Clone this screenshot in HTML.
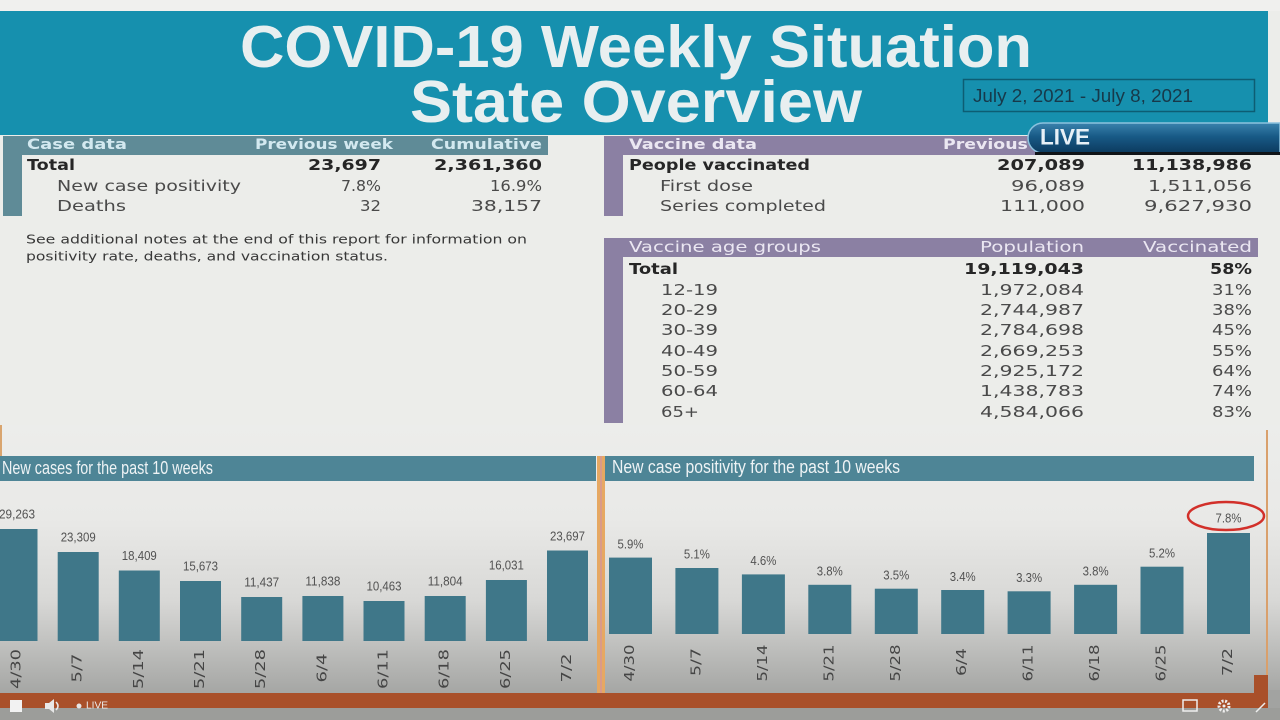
<!DOCTYPE html>
<html><head><meta charset="utf-8"><style>
html,body{margin:0;padding:0;background:#ecedea;}
svg{display:block;}
</style></head><body>
<svg width="1280" height="720" viewBox="0 0 1280 720" xmlns="http://www.w3.org/2000/svg">
<defs>
<linearGradient id="bg" x1="0" y1="0" x2="0" y2="1">
<stop offset="0" stop-color="#ecedeb"/>
<stop offset="0.35" stop-color="#e9e9e7"/>
<stop offset="0.65" stop-color="#d8d8d6"/>
<stop offset="1" stop-color="#a4a5a3"/>
</linearGradient>
<linearGradient id="live" x1="0" y1="0" x2="0" y2="1">
<stop offset="0" stop-color="#3a82ad"/>
<stop offset="0.45" stop-color="#185a86"/>
<stop offset="1" stop-color="#0c3a5e"/>
</linearGradient>
</defs>
<rect x="0" y="0" width="1280" height="720" fill="#ecedea"/>
<rect x="0" y="0" width="1280" height="11" fill="#f0f0ee"/>
<!-- header -->
<rect x="0" y="11" width="1268" height="124" fill="#1690ae"/>
<g font-family="Liberation Sans, Arial, sans-serif" font-weight="bold" font-size="59" fill="#e8eff0">
<text x="240" y="67" textLength="792" lengthAdjust="spacingAndGlyphs">COVID-19 Weekly Situation</text>
<text x="410" y="122" textLength="452" lengthAdjust="spacingAndGlyphs">State Overview</text>
</g>
<rect x="963.5" y="79.5" width="291" height="32" fill="none" stroke="#0d5d73" stroke-width="1.5"/>
<text x="973" y="96" dominant-baseline="central" font-family="Liberation Sans, Arial, sans-serif" font-size="18" fill="#17394a" textLength="220" lengthAdjust="spacingAndGlyphs">July 2, 2021 - July 8, 2021</text>

<!-- case data table -->
<rect x="3" y="136" width="545" height="19" fill="#5f8b97"/>
<rect x="3" y="136" width="19" height="80" fill="#5f8b97"/>
<g font-family="DejaVu Sans, Verdana, sans-serif" font-size="14" font-weight="bold" fill="#d3e9f0" dominant-baseline="central">
<text x="27" y="145" textLength="100" lengthAdjust="spacingAndGlyphs">Case data</text>
<text x="255" y="145" textLength="138" lengthAdjust="spacingAndGlyphs">Previous week</text>
<text x="431" y="145" textLength="111" lengthAdjust="spacingAndGlyphs">Cumulative</text>
</g>
<g font-family="DejaVu Sans, Verdana, sans-serif" font-size="15" dominant-baseline="central">
<g font-weight="bold" fill="#262626">
<text x="27" y="165" textLength="48" lengthAdjust="spacingAndGlyphs">Total</text>
<text x="308" y="165" textLength="73" lengthAdjust="spacingAndGlyphs">23,697</text>
<text x="434" y="165" textLength="108" lengthAdjust="spacingAndGlyphs">2,361,360</text>
</g>
<g fill="#4a4a4a">
<text x="57" y="186" textLength="184" lengthAdjust="spacingAndGlyphs">New case positivity</text>
<text x="341" y="186" textLength="40" lengthAdjust="spacingAndGlyphs">7.8%</text>
<text x="490" y="186" textLength="52" lengthAdjust="spacingAndGlyphs">16.9%</text>
<text x="57" y="206" textLength="69" lengthAdjust="spacingAndGlyphs">Deaths</text>
<text x="360" y="206" textLength="21" lengthAdjust="spacingAndGlyphs">32</text>
<text x="471" y="206" textLength="71" lengthAdjust="spacingAndGlyphs">38,157</text>
</g>
</g>
<g font-family="DejaVu Sans, Verdana, sans-serif" font-size="12.5" fill="#383838" dominant-baseline="central">
<text x="26" y="239" textLength="501" lengthAdjust="spacingAndGlyphs">See additional notes at the end of this report for information on</text>
<text x="26" y="256" textLength="362" lengthAdjust="spacingAndGlyphs">positivity rate, deaths, and vaccination status.</text>
</g>

<!-- vaccine data table -->
<rect x="604" y="136" width="654" height="19" fill="#8b80a3"/>
<rect x="604" y="136" width="19" height="80" fill="#8b80a3"/>
<g font-family="DejaVu Sans, Verdana, sans-serif" font-size="14.5" font-weight="bold" fill="#ebe7f2" dominant-baseline="central">
<text x="629" y="145" textLength="128" lengthAdjust="spacingAndGlyphs">Vaccine data</text>
<text x="943" y="145" textLength="142" lengthAdjust="spacingAndGlyphs">Previous week</text>
<text x="1141" y="145" textLength="111" lengthAdjust="spacingAndGlyphs">Cumulative</text>
</g>
<g font-family="DejaVu Sans, Verdana, sans-serif" font-size="15" dominant-baseline="central">
<g font-weight="bold" fill="#262626">
<text x="629" y="165" textLength="181" lengthAdjust="spacingAndGlyphs">People vaccinated</text>
<text x="997" y="165" textLength="88" lengthAdjust="spacingAndGlyphs">207,089</text>
<text x="1132" y="165" textLength="120" lengthAdjust="spacingAndGlyphs">11,138,986</text>
</g>
<g fill="#4a4a4a">
<text x="660" y="186" textLength="93" lengthAdjust="spacingAndGlyphs">First dose</text>
<text x="1011" y="186" textLength="74" lengthAdjust="spacingAndGlyphs">96,089</text>
<text x="1148" y="186" textLength="104" lengthAdjust="spacingAndGlyphs">1,511,056</text>
<text x="660" y="206" textLength="166" lengthAdjust="spacingAndGlyphs">Series completed</text>
<text x="1000" y="206" textLength="85" lengthAdjust="spacingAndGlyphs">111,000</text>
<text x="1144" y="206" textLength="108" lengthAdjust="spacingAndGlyphs">9,627,930</text>
</g>
</g>

<!-- vaccine age groups -->
<rect x="604" y="238" width="654" height="19" fill="#8b80a3"/>
<rect x="604" y="238" width="19" height="185" fill="#8b80a3"/>
<g font-family="DejaVu Sans, Verdana, sans-serif" font-size="15" fill="#ebe7f2" dominant-baseline="central">
<text x="629" y="247" textLength="192" lengthAdjust="spacingAndGlyphs">Vaccine age groups</text>
<text x="980" y="247" textLength="104" lengthAdjust="spacingAndGlyphs">Population</text>
<text x="1143" y="247" textLength="109" lengthAdjust="spacingAndGlyphs">Vaccinated</text>
</g>
<g font-family="DejaVu Sans, Verdana, sans-serif" font-size="15" dominant-baseline="central">
<g font-weight="bold" fill="#262626">
<text x="629" y="269" textLength="49" lengthAdjust="spacingAndGlyphs">Total</text>
<text x="964" y="269" textLength="120" lengthAdjust="spacingAndGlyphs">19,119,043</text>
<text x="1210" y="269" textLength="42" lengthAdjust="spacingAndGlyphs">58%</text>
</g>
<g fill="#4a4a4a">
<text x="661" y="290" textLength="57" lengthAdjust="spacingAndGlyphs">12-19</text>
<text x="980" y="290" textLength="104" lengthAdjust="spacingAndGlyphs">1,972,084</text>
<text x="1212" y="290" textLength="40" lengthAdjust="spacingAndGlyphs">31%</text>
<text x="661" y="310" textLength="57" lengthAdjust="spacingAndGlyphs">20-29</text>
<text x="980" y="310" textLength="104" lengthAdjust="spacingAndGlyphs">2,744,987</text>
<text x="1212" y="310" textLength="40" lengthAdjust="spacingAndGlyphs">38%</text>
<text x="661" y="330" textLength="57" lengthAdjust="spacingAndGlyphs">30-39</text>
<text x="980" y="330" textLength="104" lengthAdjust="spacingAndGlyphs">2,784,698</text>
<text x="1212" y="330" textLength="40" lengthAdjust="spacingAndGlyphs">45%</text>
<text x="661" y="351" textLength="57" lengthAdjust="spacingAndGlyphs">40-49</text>
<text x="980" y="351" textLength="104" lengthAdjust="spacingAndGlyphs">2,669,253</text>
<text x="1212" y="351" textLength="40" lengthAdjust="spacingAndGlyphs">55%</text>
<text x="661" y="371" textLength="57" lengthAdjust="spacingAndGlyphs">50-59</text>
<text x="980" y="371" textLength="104" lengthAdjust="spacingAndGlyphs">2,925,172</text>
<text x="1212" y="371" textLength="40" lengthAdjust="spacingAndGlyphs">64%</text>
<text x="661" y="391" textLength="57" lengthAdjust="spacingAndGlyphs">60-64</text>
<text x="980" y="391" textLength="104" lengthAdjust="spacingAndGlyphs">1,438,783</text>
<text x="1212" y="391" textLength="40" lengthAdjust="spacingAndGlyphs">74%</text>
<text x="661" y="412" textLength="38" lengthAdjust="spacingAndGlyphs">65+</text>
<text x="980" y="412" textLength="104" lengthAdjust="spacingAndGlyphs">4,584,066</text>
<text x="1212" y="412" textLength="40" lengthAdjust="spacingAndGlyphs">83%</text>
</g>
</g>

<!-- LIVE badge -->
<path d="M1043,123 L1280,123 L1280,153 L1043,153 A15,15 0 0 1 1043,123 Z" fill="url(#live)" stroke="#8cc2de" stroke-width="1.5"/>
<rect x="1035" y="152" width="245" height="3" fill="#101418"/>
<text x="1040" y="137" dominant-baseline="central" font-family="Liberation Sans, Arial, sans-serif" font-weight="bold" font-size="22" fill="#e8f1f7" textLength="50" lengthAdjust="spacingAndGlyphs">LIVE</text>

<!-- bottom charts background -->
<rect x="0" y="425" width="1280" height="270" fill="url(#bg)"/>
<rect x="0" y="425" width="2" height="36" fill="#d9a56f"/>
<rect x="1266" y="430" width="2" height="250" fill="#d9a06c"/>

<!-- chart title bars -->
<rect x="0" y="456" width="596" height="25" fill="#4e8596"/>
<rect x="605" y="456" width="649" height="25" fill="#4e8596"/>
<g font-family="Liberation Sans, Arial, sans-serif" font-size="18" fill="#eef3f5" dominant-baseline="central">
<text x="2" y="468" textLength="211" lengthAdjust="spacingAndGlyphs">New cases for the past 10 weeks</text>
<text x="612" y="467" textLength="288" lengthAdjust="spacingAndGlyphs">New case positivity for the past 10 weeks</text>
</g>

<!-- left bars -->
<g fill="#3f7789">
<rect x="-3.5" y="529" width="41" height="112"/>
<rect x="57.7" y="552" width="41" height="89"/>
<rect x="118.8" y="570.5" width="41" height="70.5"/>
<rect x="180" y="581" width="41" height="60"/>
<rect x="241.2" y="597" width="41" height="44"/>
<rect x="302.4" y="596" width="41" height="45"/>
<rect x="363.5" y="601" width="41" height="40"/>
<rect x="424.7" y="596" width="41" height="45"/>
<rect x="485.9" y="580" width="41" height="61"/>
<rect x="547" y="550.5" width="41" height="90.5"/>
</g>
<g font-family="Liberation Sans, Arial, sans-serif" font-size="13" fill="#525252" text-anchor="middle" dominant-baseline="central">
<text x="17" y="514" textLength="36" lengthAdjust="spacingAndGlyphs">29,263</text>
<text x="78.2" y="537" textLength="35" lengthAdjust="spacingAndGlyphs">23,309</text>
<text x="139.3" y="555.5" textLength="35" lengthAdjust="spacingAndGlyphs">18,409</text>
<text x="200.5" y="566" textLength="35" lengthAdjust="spacingAndGlyphs">15,673</text>
<text x="261.7" y="582" textLength="35" lengthAdjust="spacingAndGlyphs">11,437</text>
<text x="322.9" y="581" textLength="35" lengthAdjust="spacingAndGlyphs">11,838</text>
<text x="384" y="586" textLength="35" lengthAdjust="spacingAndGlyphs">10,463</text>
<text x="445.2" y="581" textLength="35" lengthAdjust="spacingAndGlyphs">11,804</text>
<text x="506.4" y="565" textLength="35" lengthAdjust="spacingAndGlyphs">16,031</text>
<text x="567.5" y="536" textLength="35" lengthAdjust="spacingAndGlyphs">23,697</text>
</g>
<g font-family="DejaVu Sans, Verdana, sans-serif" font-size="13" fill="#454545" text-anchor="middle" dominant-baseline="central">
<text x="17" y="669" transform="rotate(-90 17 669)" textLength="40" lengthAdjust="spacingAndGlyphs">4/30</text>
<text x="78.2" y="668" transform="rotate(-90 78.2 668)" textLength="29" lengthAdjust="spacingAndGlyphs">5/7</text>
<text x="139.3" y="669" transform="rotate(-90 139.3 669)" textLength="40" lengthAdjust="spacingAndGlyphs">5/14</text>
<text x="200.5" y="669" transform="rotate(-90 200.5 669)" textLength="40" lengthAdjust="spacingAndGlyphs">5/21</text>
<text x="261.7" y="669" transform="rotate(-90 261.7 669)" textLength="40" lengthAdjust="spacingAndGlyphs">5/28</text>
<text x="322.9" y="668" transform="rotate(-90 322.9 668)" textLength="29" lengthAdjust="spacingAndGlyphs">6/4</text>
<text x="384" y="669" transform="rotate(-90 384 669)" textLength="40" lengthAdjust="spacingAndGlyphs">6/11</text>
<text x="445.2" y="669" transform="rotate(-90 445.2 669)" textLength="40" lengthAdjust="spacingAndGlyphs">6/18</text>
<text x="506.4" y="669" transform="rotate(-90 506.4 669)" textLength="40" lengthAdjust="spacingAndGlyphs">6/25</text>
<text x="567.5" y="668" transform="rotate(-90 567.5 668)" textLength="29" lengthAdjust="spacingAndGlyphs">7/2</text>
</g>

<!-- right bars -->
<g fill="#3f7789">
<rect x="609" y="557.6" width="43" height="76.4"/>
<rect x="675.4" y="568" width="43" height="66"/>
<rect x="741.9" y="574.4" width="43" height="59.6"/>
<rect x="808.3" y="584.8" width="43" height="49.2"/>
<rect x="874.8" y="588.7" width="43" height="45.3"/>
<rect x="941.2" y="590" width="43" height="44"/>
<rect x="1007.6" y="591.3" width="43" height="42.7"/>
<rect x="1074.1" y="584.8" width="43" height="49.2"/>
<rect x="1140.5" y="566.7" width="43" height="67.3"/>
<rect x="1207" y="533" width="43" height="101"/>
</g>
<g font-family="Liberation Sans, Arial, sans-serif" font-size="13" fill="#525252" text-anchor="middle" dominant-baseline="central">
<text x="630.5" y="544" textLength="26" lengthAdjust="spacingAndGlyphs">5.9%</text>
<text x="696.9" y="554" textLength="26" lengthAdjust="spacingAndGlyphs">5.1%</text>
<text x="763.4" y="560.5" textLength="26" lengthAdjust="spacingAndGlyphs">4.6%</text>
<text x="829.8" y="571" textLength="26" lengthAdjust="spacingAndGlyphs">3.8%</text>
<text x="896.3" y="575" textLength="26" lengthAdjust="spacingAndGlyphs">3.5%</text>
<text x="962.7" y="576.5" textLength="26" lengthAdjust="spacingAndGlyphs">3.4%</text>
<text x="1029.1" y="577.5" textLength="26" lengthAdjust="spacingAndGlyphs">3.3%</text>
<text x="1095.6" y="571" textLength="26" lengthAdjust="spacingAndGlyphs">3.8%</text>
<text x="1162" y="553" textLength="26" lengthAdjust="spacingAndGlyphs">5.2%</text>
<text x="1228.5" y="518" textLength="26" lengthAdjust="spacingAndGlyphs">7.8%</text>
</g>
<ellipse cx="1226" cy="516" rx="38" ry="14" fill="none" stroke="#d2302a" stroke-width="2.5"/>
<g font-family="DejaVu Sans, Verdana, sans-serif" font-size="13" fill="#454545" text-anchor="middle" dominant-baseline="central">
<text x="630.5" y="663" transform="rotate(-90 630.5 663)" textLength="37" lengthAdjust="spacingAndGlyphs">4/30</text>
<text x="696.9" y="662" transform="rotate(-90 696.9 662)" textLength="28" lengthAdjust="spacingAndGlyphs">5/7</text>
<text x="763.4" y="663" transform="rotate(-90 763.4 663)" textLength="37" lengthAdjust="spacingAndGlyphs">5/14</text>
<text x="829.8" y="663" transform="rotate(-90 829.8 663)" textLength="37" lengthAdjust="spacingAndGlyphs">5/21</text>
<text x="896.3" y="663" transform="rotate(-90 896.3 663)" textLength="37" lengthAdjust="spacingAndGlyphs">5/28</text>
<text x="962.7" y="662" transform="rotate(-90 962.7 662)" textLength="28" lengthAdjust="spacingAndGlyphs">6/4</text>
<text x="1029.1" y="663" transform="rotate(-90 1029.1 663)" textLength="37" lengthAdjust="spacingAndGlyphs">6/11</text>
<text x="1095.6" y="663" transform="rotate(-90 1095.6 663)" textLength="37" lengthAdjust="spacingAndGlyphs">6/18</text>
<text x="1162" y="663" transform="rotate(-90 1162 663)" textLength="37" lengthAdjust="spacingAndGlyphs">6/25</text>
<text x="1228.5" y="662" transform="rotate(-90 1228.5 662)" textLength="28" lengthAdjust="spacingAndGlyphs">7/2</text>
</g>

<!-- middle divider -->
<rect x="597" y="456" width="8" height="252" fill="#e6a862"/>
<rect x="600" y="456" width="2" height="252" fill="#d99a8a"/>

<!-- bottom orange bar & player strip -->
<rect x="1268" y="690" width="12" height="20" fill="#a2a3a1"/>
<rect x="0" y="693" width="1268" height="15" fill="#a9502a"/>
<rect x="1254" y="675" width="14" height="33" fill="#a9502a"/>
<rect x="0" y="708" width="1280" height="12" fill="#9c9d9a"/>
<!-- controls -->
<rect x="10" y="700" width="12" height="12" fill="#f2f2f2"/>
<path d="M45,703 L49,703 L54,699 L54,713 L49,709 L45,709 Z" fill="#e8e8e8"/>
<path d="M56,702 Q60,706 56,710" fill="none" stroke="#e8e8e8" stroke-width="1.5"/>
<circle cx="79" cy="706" r="2.5" fill="#e6e6e6"/>
<text x="86" y="706" dominant-baseline="central" font-family="Liberation Sans, Arial, sans-serif" font-size="10" fill="#ececec" textLength="22" lengthAdjust="spacingAndGlyphs">LIVE</text>
<rect x="1183" y="700" width="14" height="11" fill="none" stroke="#eeeeee" stroke-width="1.5"/>
<circle cx="1224" cy="706" r="5" fill="none" stroke="#eeeeee" stroke-width="3" stroke-dasharray="2 1.5"/>
<circle cx="1224" cy="706" r="1.5" fill="#eeeeee"/>
<path d="M1256,712 L1265,703" stroke="#eeeeee" stroke-width="1.5"/>
</svg>
</body></html>
